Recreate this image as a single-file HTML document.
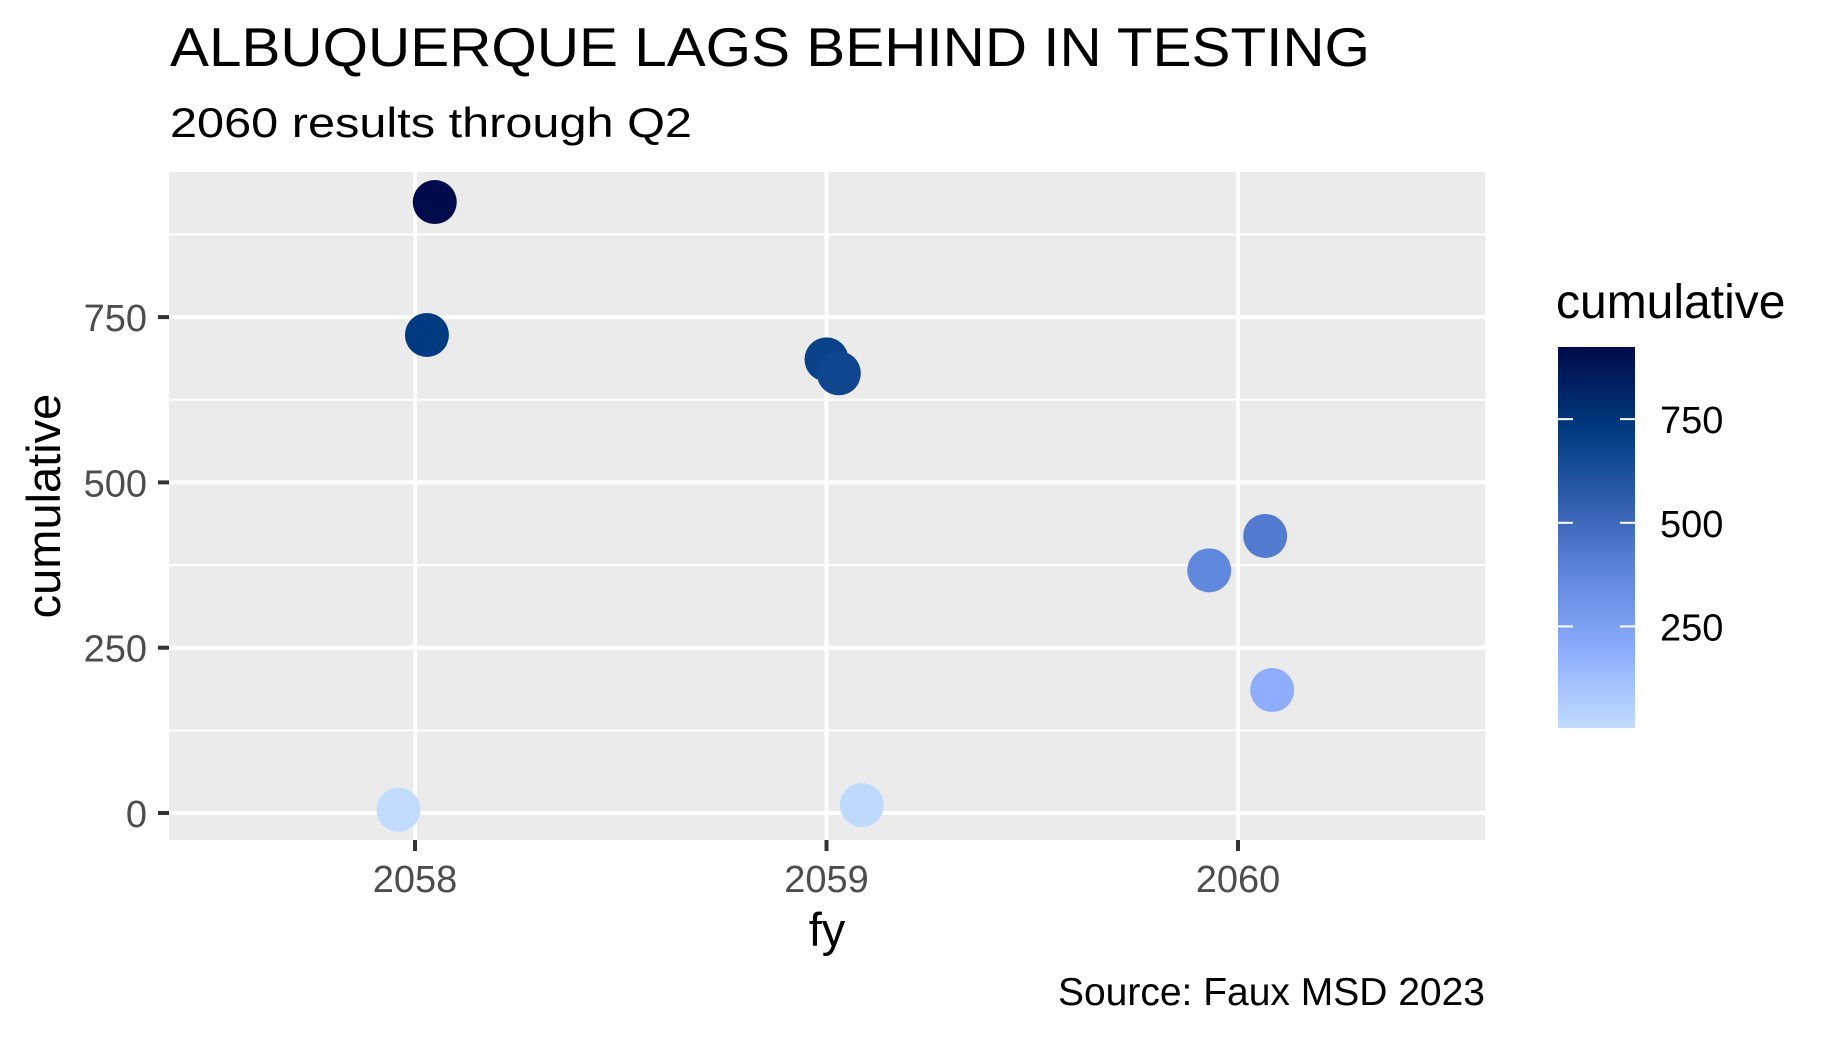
<!DOCTYPE html>
<html><head><meta charset="utf-8"><style>
body{margin:0;background:#fff;}
svg{display:block;font-family:"Liberation Sans",Arial,sans-serif;}
</style></head><body>
<svg id="chart" width="1840" height="1040" viewBox="0 0 1840 1040">
<text x="170" y="66" font-size="55" textLength="1200" lengthAdjust="spacingAndGlyphs" fill="#000">ALBUQUERQUE LAGS BEHIND IN TESTING</text>
<text x="170" y="137" font-size="42" textLength="522" lengthAdjust="spacingAndGlyphs" fill="#000">2060 results through Q2</text>
<rect x="169" y="172" width="1316" height="668" fill="#ebebeb"/>
<g id="grid"></g>
<g id="axes"></g>
<g id="points"></g>
<text transform="translate(60,506) rotate(-90)" text-anchor="middle" font-size="47" fill="#000">cumulative</text>
<text x="827" y="946" text-anchor="middle" font-size="47" fill="#000">fy</text>
<text x="1485" y="1005" text-anchor="end" font-size="39" fill="#000">Source: Faux MSD 2023</text>
<text x="1556" y="318" font-size="48" fill="#000">cumulative</text>
<defs><linearGradient id="lg" x1="0" y1="1" x2="0" y2="0"></linearGradient></defs>
<rect id="legendbar" x="1558" y="347" width="77" height="381" fill="url(#lg)"/>
<g id="legend"></g>
</svg>
<script>
const fyValues = [2058.048, 2058.029, 2057.960, 2059.000, 2059.030, 2059.086, 2059.930, 2060.066, 2060.083];
const cumulativeValues = [924, 723, 5, 686, 665, 12, 367, 419, 186];
const xTicks = [2058, 2059, 2060];
const yTicks = [0, 250, 500, 750];
const legendTicks = [250, 500, 750];
const colorStopValues = [0, 186, 367, 500, 723, 924];
const colorStopColors = ["#c2ddff", "#8eaefd", "#6088dd", "#3f69bb", "#003a80", "#000b4b"];

const NS = "http://www.w3.org/2000/svg";
const xs = v => 415 + (v - 2058) * 411.5;
const ys = v => 813 - v * (165.3 / 250);
const legMin = 5, legMax = 924;
const ls = v => 728 - (v - legMin) / (legMax - legMin) * 381;
function mk(tag, attrs, parent){const e=document.createElementNS(NS,tag);for(const k in attrs)e.setAttribute(k,attrs[k]);parent.appendChild(e);return e;}
function hex(c){return [1,3,5].map(i=>parseInt(c.substr(i,2),16));}
function colorFor(v){
  for(let i=0;i<colorStopValues.length-1;i++){
    if(v<=colorStopValues[i+1]||i===colorStopValues.length-2){
      const t=Math.max(0,Math.min(1,(v-colorStopValues[i])/(colorStopValues[i+1]-colorStopValues[i])));
      const a=hex(colorStopColors[i]),b=hex(colorStopColors[i+1]);
      return "rgb("+a.map((x,j)=>Math.round(x+(b[j]-x)*t)).join(",")+")";
    }
  }
}
const grid=document.getElementById("grid"), axes=document.getElementById("axes");
for(let i=0;i<yTicks.length;i++){
  const m=yTicks[i]+125;
  if(ys(m)>172){const l=mk("line",{x1:169,x2:1485,y1:ys(m),y2:ys(m),stroke:"#fff","stroke-width":2},grid);
  
  }
}
yTicks.forEach(v=>{
  const l=mk("line",{x1:169,x2:1485,y1:ys(v),y2:ys(v),stroke:"#fff","stroke-width":4},grid);
  
  
  const t=mk("line",{x1:158,x2:169,y1:ys(v),y2:ys(v),stroke:"#333","stroke-width":4},axes);
  
  
  const tx=mk("text",{x:147,y:ys(v)+14,"text-anchor":"end","font-size":38,fill:"#4d4d4d"},axes);
  tx.textContent=v;
  
  
});
xTicks.forEach(v=>{
  const l=mk("line",{x1:xs(v),x2:xs(v),y1:172,y2:840,stroke:"#fff","stroke-width":4},grid);
  
  
  const t=mk("line",{x1:xs(v),x2:xs(v),y1:840,y2:851,stroke:"#333","stroke-width":4},axes);
  
  
  const tx=mk("text",{x:xs(v),y:892,"text-anchor":"middle","font-size":38,fill:"#4d4d4d"},axes);
  tx.textContent=v;
  
  
});
const pts=document.getElementById("points");
fyValues.forEach((f,i)=>{
  const c=mk("circle",{cx:xs(f),cy:ys(cumulativeValues[i]),r:22,fill:colorFor(cumulativeValues[i])},pts);
  
  
});
const lg=document.getElementById("lg");
for(let k=0;k<=20;k++){
  const v=legMin+(legMax-legMin)*k/20;
  mk("stop",{offset:(k/20),"stop-color":colorFor(v)},lg);
}
const leg=document.getElementById("legend");
legendTicks.forEach(v=>{
  const a=mk("line",{x1:1558,x2:1573,y1:ls(v),y2:ls(v),stroke:"#fff","stroke-width":2},leg);
  
  
  const b=mk("line",{x1:1620,x2:1635,y1:ls(v),y2:ls(v),stroke:"#fff","stroke-width":2},leg);
  
  
  const tx=mk("text",{x:1660,y:ls(v)+14,"font-size":38,fill:"#000"},leg);
  tx.textContent=v;
  
  
});
</script>
</body></html>
